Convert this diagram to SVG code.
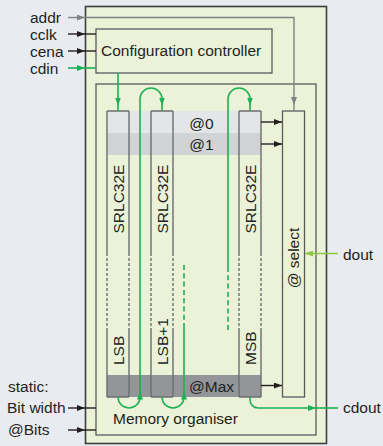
<svg xmlns="http://www.w3.org/2000/svg" width="383" height="446" viewBox="0 0 383 446">
<style>
text{font-family:"Liberation Sans",Arial,sans-serif;font-size:15.5px;fill:#231f20}
.box{fill:none;stroke:#5a5a5c;stroke-width:1.3}
.srl{fill:none;stroke:#6d6e71;stroke-width:1.4}
.srld{fill:none;stroke:#6d6e71;stroke-width:1.4;stroke-dasharray:3 2}
.blk{fill:none;stroke:#231f20;stroke-width:1.4}
.gry{fill:none;stroke:#808285;stroke-width:1.4}
.grn{fill:none;stroke:#1db054;stroke-width:1.6}
.grnd{fill:none;stroke:#1db054;stroke-width:1.6;stroke-dasharray:5 3.3}
.ygr{fill:none;stroke:#8dc63f;stroke-width:1.6}
</style>
<defs>
<marker id="ab" viewBox="0 0 8 6" refX="8" refY="3" markerWidth="8" markerHeight="6" markerUnits="userSpaceOnUse" orient="auto"><path d="M0,0 L8,3 L0,6 z" fill="#231f20"/></marker>
<marker id="ag" viewBox="0 0 8 6" refX="8" refY="3" markerWidth="8" markerHeight="6" markerUnits="userSpaceOnUse" orient="auto"><path d="M0,0 L8,3 L0,6 z" fill="#808285"/></marker>
<marker id="an" viewBox="0 0 8 6" refX="8" refY="3" markerWidth="8" markerHeight="6" markerUnits="userSpaceOnUse" orient="auto"><path d="M0,0 L8,3 L0,6 z" fill="#1db054"/></marker>
<marker id="ay" viewBox="0 0 8 6" refX="8" refY="3" markerWidth="8" markerHeight="6" markerUnits="userSpaceOnUse" orient="auto"><path d="M0,0 L8,3 L0,6 z" fill="#8dc63f"/></marker>
</defs>
<rect x="0" y="0" width="383" height="446" fill="#e8ebf0"/>
<g id="fpga">
<rect x="85.5" y="6.5" width="241" height="437" fill="#ebf2d8" stroke="#3d3d3f" stroke-width="1.6"/>
</g>
<g id="labels">
<text x="30" y="23">addr</text>
<text x="30" y="40">cclk</text>
<text x="30" y="57">cena</text>
<text x="30" y="74">cdin</text>
<text x="8" y="392">static:</text>
<text x="7" y="413">Bit width</text>
<text x="8" y="435">@Bits</text>
<text x="343" y="260">dout</text>
<text x="343" y="413">cdout</text>
</g>
<g id="config">
<rect class="box" x="96" y="29" width="176" height="44"/>
<text x="101" y="56">Configuration controller</text>
</g>
<g id="memory-organiser">
<rect class="box" x="96" y="84" width="220" height="351"/>
<rect x="107" y="111" width="154" height="22" fill="#e3e5e6"/>
<rect x="107" y="133" width="154" height="22" fill="#d1d3d4"/>
<rect x="107" y="375" width="154" height="22" fill="#939598"/>
<text x="201.5" y="128.5" text-anchor="middle">@0</text>
<text x="201.5" y="150" text-anchor="middle">@1</text>
<text x="189" y="391.5">@Max</text>
<text x="113" y="424">Memory organiser</text>
</g>
<g id="srl-lsb">
<path class="srl" d="M107,111 H129 M107,397 H129 M107,111 V253 M107,328 V397 M129,111 V253 M129,328 V397"/>
<path class="srld" d="M107,253 V328 M129,253 V328"/>
<text transform="translate(123.5,233.5) rotate(-90)">SRLC32E</text>
<text transform="translate(124,365) rotate(-90)">LSB</text>
</g>
<g id="srl-lsb1">
<path class="srl" d="M151,111 H173 M151,397 H173 M151,111 V253 M151,328 V397 M173,111 V253 M173,328 V397"/>
<path class="srld" d="M151,253 V328 M173,253 V328"/>
<text transform="translate(168.3,233.5) rotate(-90)">SRLC32E</text>
<text transform="translate(168.3,365) rotate(-90)">LSB+1</text>
</g>
<g id="srl-msb">
<path class="srl" d="M239,111 H261 M239,397 H261 M239,111 V253 M239,328 V397 M261,111 V253 M261,328 V397"/>
<path class="srld" d="M239,253 V328 M261,253 V328"/>
<text transform="translate(255.7,233.5) rotate(-90)">SRLC32E</text>
<text transform="translate(256,365) rotate(-90)">MSB</text>
</g>
<g id="select">
<rect class="box" x="282.5" y="111" width="22" height="286"/>
<text transform="translate(299,258) rotate(-90)" text-anchor="middle">@ select</text>
</g>
<g id="connectors">
<path class="gry" d="M68,17.5 H85" marker-end="url(#ag)"/>
<path class="gry" d="M85,17.5 H294 V105" marker-end="url(#ag)"/>
<path class="gry" d="M294,105 V111"/>
<path class="blk" d="M68,34 H85" marker-end="url(#ab)"/>
<path class="blk" d="M85,34 H96"/>
<path class="blk" d="M68,51 H85" marker-end="url(#ab)"/>
<path class="blk" d="M85,51 H96"/>
<path class="grn" d="M68,68 H85" marker-end="url(#an)"/>
<path class="grn" d="M85,68 H96"/>
<path class="blk" d="M68,408 H85" marker-end="url(#ab)"/>
<path class="blk" d="M85,408 H96"/>
<path class="blk" d="M68,430 H85" marker-end="url(#ab)"/>
<path class="blk" d="M85,430 H96"/>
<path class="grn" d="M118,73 V105.5" marker-end="url(#an)"/>
<path class="grn" d="M118,105 V111"/>
<path class="grn" d="M140,397 V99 A11,11 0 0 1 162,99 V105.5" marker-end="url(#an)"/>
<path class="grn" d="M162,105 V111"/>
<path class="grn" d="M228,267 V99 A11,11 0 0 1 250,99 V105.5" marker-end="url(#an)"/>
<path class="grn" d="M250,105 V111"/>
<path class="grnd" d="M228,267 V330"/>
<path class="grnd" d="M184,265 V328"/>
<path class="grn" d="M184,328 V397"/>
<path class="grn" d="M118,397 A11,11 0 0 0 140,397 V391.5" marker-end="url(#an)"/>
<path class="grn" d="M162,397 A11,11 0 0 0 184,397 V391.5" marker-end="url(#an)"/>
<path class="grn" d="M250,397 V400 A8,8 0 0 0 258,408 H316" marker-end="url(#an)"/>
<path class="grn" d="M316,408 H338"/>
<path class="blk" d="M261,122 H282" marker-end="url(#ab)"/>
<path class="blk" d="M261,144 H282" marker-end="url(#ab)"/>
<path class="blk" d="M261,385.5 H282" marker-end="url(#ab)"/>
<path class="ygr" d="M338,253.5 H305" marker-end="url(#ay)"/>
</g>
</svg>
